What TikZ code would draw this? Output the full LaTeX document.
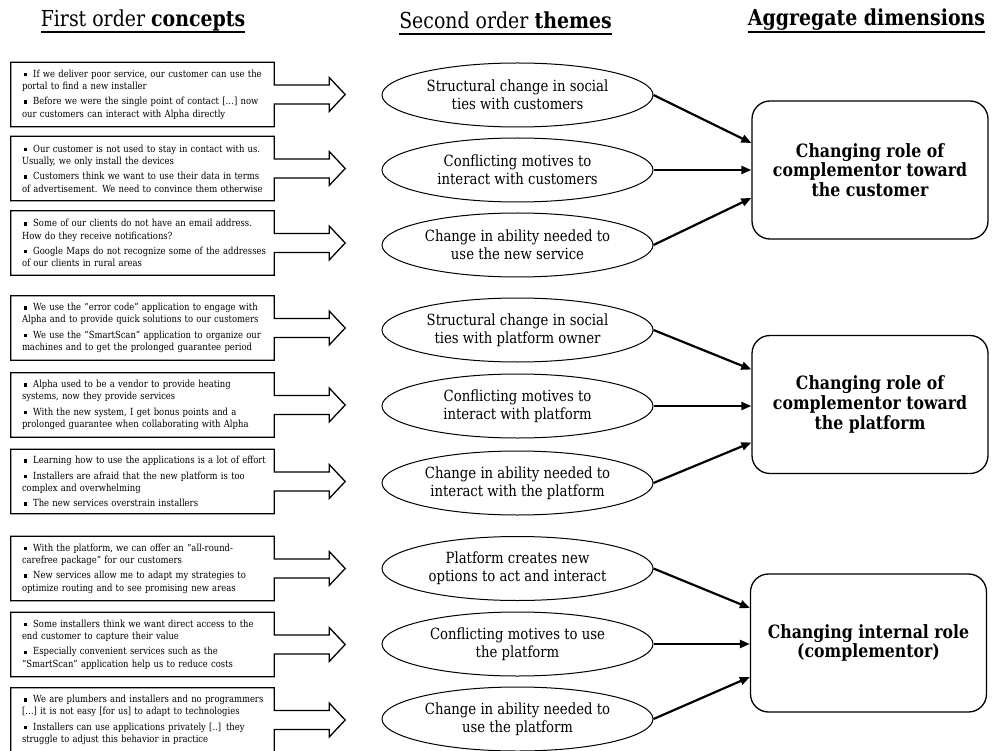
\documentclass[tikz,border=0pt]{standalone}
\usepackage{fontspec}
\setmainfont{DejaVu Serif}[FakeStretch=0.86]
\usetikzlibrary{shapes.geometric,arrows.meta,calc}
\newcommand\bul{\hspace{2pt}\rule[0.2ex]{0.65ex}{0.65ex}\hspace{0.6em}}
% quote nodes are 280pt wide; the drawn box is 263pt wide (right edge 17pt inside)
\newcommand\calloutpath[1]{%
  \draw[callout] (#1.north west) -- ([xshift=-17pt]#1.north east) -- ([xshift=-17pt,yshift=9.5pt]#1.east)
    -- ([xshift=38pt,yshift=9.5pt]#1.east) -- ([xshift=38pt,yshift=17pt]#1.east)
    -- ([xshift=54pt]#1.east) -- ([xshift=38pt,yshift=-17pt]#1.east)
    -- ([xshift=38pt,yshift=-9.5pt]#1.east) -- ([xshift=-17pt,yshift=-9.5pt]#1.east)
    -- ([xshift=-17pt]#1.south east) -- (#1.south west) -- cycle;}
\tikzset{
  quote/.style={inner xsep=11pt, inner ysep=0pt, text width=258pt, minimum height=64pt,
    align=left, font=\fontsize{9.8}{12.3}\selectfont},
  callout/.style={line width=1.3pt, line join=miter},
  theme/.style={draw, ellipse, line width=1pt, minimum width=271pt, minimum height=64pt,
    inner sep=0pt, align=center, font=\fontsize{15.4}{18.3}\selectfont},
  dim/.style={draw, rounded corners=18pt, line width=1.3pt, minimum width=236pt,
    minimum height=138pt, align=center, font=\fontsize{18.3}{19.8}\selectfont\bfseries},
  link/.style={line width=2.2pt, -{Triangle[length=10pt,width=8pt]}},
  header/.style={font=\fontsize{22}{26}\selectfont, inner sep=0pt},
  uline/.style={line width=1.4pt},
}
\begin{document}
\begin{tikzpicture}[x=1pt,y=-1pt]
\useasboundingbox (0,0) rectangle (998,751);

% headers
\node[header] (h1) at (143,20) {First order \textbf{concepts}};
\node[header] (h2) at (505.5,20) {Second order \textbf{themes}};
\node[header] (h3) at (866.5,20) {\textbf{Aggregate dimensions}};
\foreach \h in {h1,h2,h3}{
  \draw[uline] ([yshift=-6pt]\h.base west) -- ([yshift=-6pt]\h.base east);
}

% first order concepts
\node[quote] (q1) at (151,94.5) {\bul If we deliver poor service, our customer can use the\\portal to find a new installer\\[3pt]\bul Before we were the single point of contact […] now\\our customers can interact with Alpha directly};
\node[quote] (q2) at (151,168.5) {\bul Our customer is not used to stay in contact with us.\\Usually, we only install the devices\\[3pt]\bul Customers think we want to use their data in terms\\of advertisement. We need to convince them otherwise};
\node[quote] (q3) at (151,243) {\bul Some of our clients do not have an email address.\\How do they receive notifications?\\[3pt]\bul Google Maps do not recognize some of the addresses\\of our clients in rural areas};
\node[quote] (q4) at (151,328) {\bul We use the “error code” application to engage with\\Alpha and to provide quick solutions to our customers\\[3pt]\bul We use the “SmartScan” application to organize our\\machines and to get the prolonged guarantee period};
\node[quote] (q5) at (151,405) {\bul Alpha used to be a vendor to provide heating\\systems, now they provide services\\[3pt]\bul With the new system, I get bonus points and a\\prolonged guarantee when collaborating with Alpha};
\node[quote] (q6) at (151,481.5) {\bul Learning how to use the applications is a lot of effort\\[3pt]\bul Installers are afraid that the new platform is too\\complex and overwhelming\\[3pt]\bul The new services overstrain installers};
\node[quote] (q7) at (151,568.5) {\bul With the platform, we can offer an “all-round-\\carefree package” for our customers\\[3pt]\bul New services allow me to adapt my strategies to\\optimize routing and to see promising new areas};
\node[quote] (q8) at (151,644.5) {\bul Some installers think we want direct access to the\\end customer to capture their value\\[3pt]\bul Especially convenient services such as the\\“SmartScan” application help us to reduce costs};
\node[quote] (q9) at (151,720) {\bul We are plumbers and installers and no programmers\\\relax[…] it is not easy [for us] to adapt to technologies\\[3pt]\bul Installers can use applications privately [..] they\\struggle to adjust this behavior in practice};
\foreach \q in {q1,q2,q3,q4,q5,q6,q7,q8,q9}{
  \calloutpath{\q}
}

% second order themes
\node[theme] (t1) at (517.5,95) {Structural change in social\\ties with customers};
\node[theme] (t2) at (517.5,170) {Conflicting motives to\\interact with customers};
\node[theme] (t3) at (517.5,245) {Change in ability needed to\\use the new service};
\node[theme] (t4) at (517.5,330) {Structural change in social\\ties with platform owner};
\node[theme] (t5) at (517.5,406) {Conflicting motives to\\interact with platform};
\node[theme] (t6) at (517.5,483) {Change in ability needed to\\interact with the platform};
\node[theme] (t7) at (517.5,568.5) {Platform creates new\\options to act and interact};
\node[theme] (t8) at (517.5,644) {Conflicting motives to use\\the platform};
\node[theme] (t9) at (517.5,719) {Change in ability needed to\\use the platform};

% aggregate dimensions
\node[dim] (dA) at (870,170) {Changing role of\\complementor toward\\the customer};
\node[dim] (dB) at (870,404.5) {Changing role of\\complementor toward\\the platform};
\node[dim] (dC) at (868.5,643) {Changing internal role\\(complementor)};

% links
\draw[link] (t1.east) -- ([yshift=27pt]dA.west);
\draw[link] (t2.east) -- (t2.east -| dA.west);
\draw[link] (t3.east) -- ([yshift=-28pt]dA.west);
\draw[link] (t4.east) -- ([yshift=35pt]dB.west);
\draw[link] (t5.east) -- (t5.east -| dB.west);
\draw[link] (t6.east) -- ([yshift=-38pt]dB.west);
\draw[link] (t7.east) -- ([yshift=35pt]dC.west);
\draw[link] (t8.east) -- (t8.east -| dC.west);
\draw[link] (t9.east) -- ([yshift=-34pt]dC.west);
\end{tikzpicture}
\end{document}
